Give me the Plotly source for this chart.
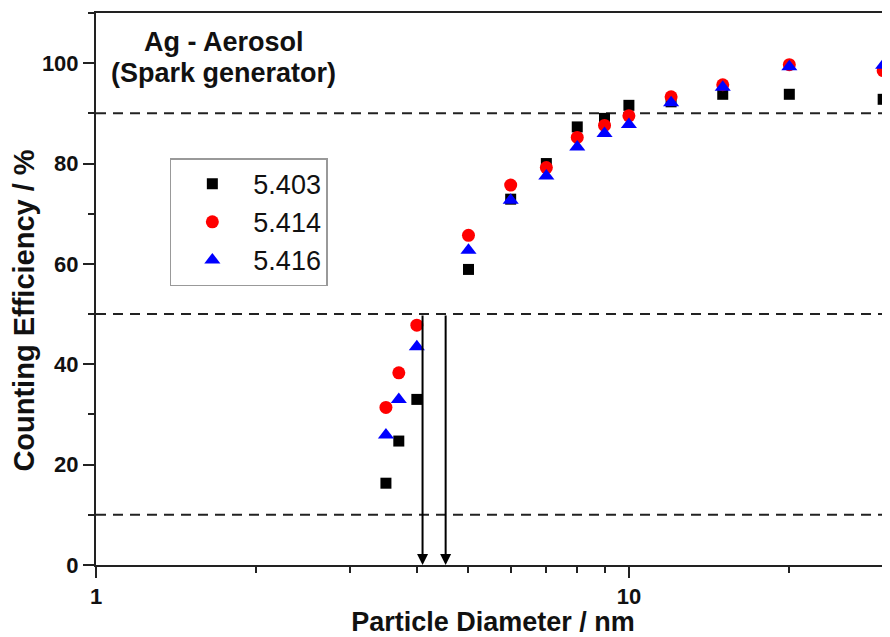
import numpy as np
import plotly.graph_objects as go

# ---- data ----
diam_black = [3.5, 3.7, 4.0, 5, 6, 7, 8, 9, 10, 12, 15, 20, 30]
eff_5403 = [16.3, 24.7, 33.0, 58.9, 72.9, 80.0, 87.3, 89.0, 91.6, 92.3, 93.8, 93.8, 92.8]

diam_red = [3.5, 3.7, 4.0, 5, 6, 7, 8, 9, 10, 12, 15, 20, 30]
eff_5414 = [31.4, 38.3, 47.8, 65.7, 75.7, 79.2, 85.2, 87.6, 89.5, 93.3, 95.7, 99.7, 98.5]

diam_blue = [3.5, 3.7, 4.0, 5, 6, 7, 8, 9, 10, 12, 15, 20, 30]
eff_5416 = [25.9, 33.0, 43.5, 62.7, 72.7, 77.5, 83.3, 86.0, 87.8, 92.1, 95.2, 99.3, 99.6]

series_names = ["5.403", "5.414", "5.416"]
threshold_levels = [10, 50, 90]
cutoff_diam = [4.1, 4.53]
cutoff_level = 50
x_tick_vals = [1, 10]
x_minor_vals = [2, 3, 4, 5, 6, 7, 8, 9, 20, 30]
y_tick_vals = [0, 20, 40, 60, 80, 100]
label_lines = ["Ag - Aerosol", "(Spark generator)"]
x_title = "Particle Diameter / nm"
y_title = "Counting Efficiency / %"

FONT = "Liberation Sans, Arial, sans-serif"
INK = "#111111"

fig = go.Figure()
fig.add_trace(go.Scatter(x=diam_black, y=eff_5403, mode="markers", name=series_names[0],
                         marker=dict(symbol="square", size=11, color="#000000"), cliponaxis=False))
fig.add_trace(go.Scatter(x=diam_red, y=eff_5414, mode="markers", name=series_names[1],
                         marker=dict(symbol="circle", size=13, color="#ff0000"), cliponaxis=False))
fig.add_trace(go.Scatter(x=diam_blue, y=eff_5416, mode="markers", name=series_names[2],
                         marker=dict(symbol="triangle-up", size=14, color="#0000ff"), cliponaxis=False))

for lv in threshold_levels:
    fig.add_shape(type="line", xref="paper", x0=0, x1=1, yref="y", y0=lv, y1=lv,
                  line=dict(color="#222222", width=2, dash="10px,7px"), layer="below")

for d in cutoff_diam:
    fig.add_annotation(x=np.log10(d), y=0, ax=np.log10(d), ay=cutoff_level,
                       xref="x", yref="y", axref="x", ayref="y",
                       showarrow=True, arrowhead=2, arrowsize=1.1, arrowwidth=2,
                       arrowcolor="#000000", standoff=0, text="")

for txt, yy in zip(label_lines, [104.2, 98.0]):
    fig.add_annotation(x=0.24, y=yy, xref="x", yref="y", showarrow=False,
                       text=txt, yanchor="middle",
                       font=dict(family=FONT, size=27, color=INK, weight="bold"))

# y-axis title as rotated text
fig.add_annotation(x=-0.09, y=0.46, xref="paper", yref="paper", showarrow=False,
                   text=y_title, textangle=-90, xanchor="center", yanchor="middle",
                   borderpad=0,
                   font=dict(family=FONT, size=29, color=INK, weight="bold"))

fig.update_xaxes(type="log", range=[0, np.log10(30.9)], automargin=False,
                 tickvals=x_tick_vals, ticktext=[str(v) for v in x_tick_vals],
                 ticks="outside", ticklen=11, tickwidth=2, tickcolor="#222222",
                 minor=dict(ticks="outside", ticklen=6, tickwidth=2, tickcolor="#222222",
                            tickvals=x_minor_vals, showgrid=False),
                 showline=True, linewidth=2, linecolor="#222222", mirror=True,
                 showgrid=False, zeroline=False,
                 tickfont=dict(family=FONT, size=22, color=INK, weight="bold"),
                 title=dict(text=x_title, standoff=0,
                            font=dict(family=FONT, size=27, color=INK, weight="bold")))
fig.update_yaxes(range=[0, 110], tickvals=y_tick_vals, automargin=False,
                 ticks="outside", ticklen=11, tickwidth=2, tickcolor="#222222",
                 minor=dict(ticks="outside", ticklen=6, tickwidth=2, tickcolor="#222222",
                            dtick=10, showgrid=False),
                 showline=True, linewidth=2, linecolor="#222222",
                 showgrid=False, zeroline=False,
                 tickfont=dict(family=FONT, size=22, color=INK, weight="bold"))

fig.update_layout(
    width=882, height=629,
    margin=dict(l=88, r=0, t=5, b=72),
    plot_bgcolor="white", paper_bgcolor="white",
    showlegend=True,
    legend=dict(x=0.093, y=0.737, xanchor="left", yanchor="top",
                bordercolor="#999999", borderwidth=1.5, bgcolor="white",
                font=dict(family=FONT, size=27, color=INK),
                itemwidth=72, tracegroupgap=0),
)

fig.write_html("out.html")
